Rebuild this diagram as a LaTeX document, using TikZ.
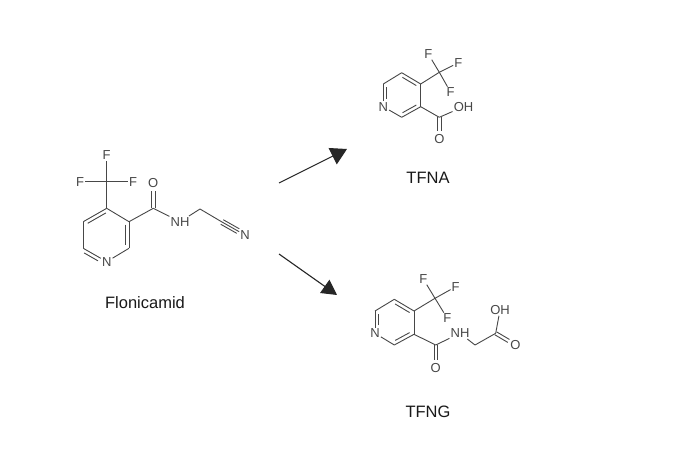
\documentclass[tikz,border=0pt]{standalone}
\usepackage{fontspec}
\setmainfont{Liberation Sans}
\usetikzlibrary{calc,arrows.meta}
\definecolor{bondgray}{HTML}{474747}
\tikzset{
  bond/.style={draw=bondgray,line width=0.9pt},
  atom/.style={inner sep=1pt,text=bondgray,font=\fontsize{13}{13}\selectfont},
  caption/.style={inner sep=0pt,text=black!90,font=\fontsize{16.5}{16.5}\selectfont},
  reaction/.style={draw=black!85,line width=1.1pt},
  uparrow/.style={-{Triangle[length=16pt,width=18pt]}},
  downarrow/.style={-{Triangle[length=15pt,width=16pt]}}
}
% inner line of a ring double bond
\newcommand{\innerbond}[2]{\draw[bond,shorten <=3pt,shorten >=3pt] ($(#1)!3.6pt!-90:(#2)$) -- ($(#2)!3.6pt!90:(#1)$);}
% two lines side by side, towards an atom label
\newcommand{\twobond}[2]{
\draw[bond,shorten >=8pt] ($(#1)!1.7pt!-90:(#2)$) -- ($(#2)!1.7pt!90:(#1)$);
\draw[bond,shorten >=8pt] ($(#1)!1.7pt!90:(#2)$) -- ($(#2)!1.7pt!-90:(#1)$);}
\begin{document}
\begin{tikzpicture}[x=1pt,y=-1pt]
\useasboundingbox (0,0) rectangle (679,471);
\fill[white] (0,0) rectangle (679,471);

% Flonicamid
\coordinate (a4) at (106.7,208.3);
\coordinate (a3) at (129,221.7);
\coordinate (a2) at (129,248.3);
\node[atom] at (106.7,261.7) (aN) {N};
\coordinate (a6) at (83.3,248.3);
\coordinate (a5) at (83.3,221.7);
\coordinate (aC) at (106.7,181.7);
\node[atom] at (106.7,155.5) (aF1) {F};
\node[atom] at (80,181.7) (aF2) {F};
\node[atom] at (133,181.7) (aF3) {F};
\coordinate (aCO) at (153.3,208.3);
\node[atom] at (153.3,183) (aO) {O};
\node[atom] at (180,221.7) (aNH) {NH};
\coordinate (aCH) at (200,209);
\coordinate (aCN) at (222,222);
\node[atom] at (245,235) (aNt) {N};

\draw[bond] (a4) -- (a3);
\draw[bond] (a3) -- (a2);
\draw[bond] (a2) -- (aN);
\draw[bond] (aN) -- (a6);
\draw[bond] (a6) -- (a5);
\draw[bond] (a5) -- (a4);
\innerbond{a5}{a4}
\innerbond{a3}{a2}
\draw[bond,shorten <=3pt,shorten >=8pt] ($(a6)!3.6pt!-90:(aN)$) -- ($(aN)!3.6pt!90:(a6)$);
\draw[bond] (a4) -- (aC);
\draw[bond] (aC) -- (aF1);
\draw[bond] (aC) -- (aF2);
\draw[bond] (aC) -- (aF3);
\draw[bond] (a3) -- (aCO);
\twobond{aCO}{aO}
\draw[bond] (aCO) -- (aNH);
\draw[bond] (aNH) -- (aCH);
\draw[bond] (aCH) -- (aCN);
\draw[bond] (aCN) -- (aNt);
\draw[bond,shorten >=8pt] ($(aCN)!2.6pt!-90:(aNt)$) -- ($(aNt)!2.6pt!90:(aCN)$);
\draw[bond,shorten >=8pt] ($(aCN)!2.6pt!90:(aNt)$) -- ($(aNt)!2.6pt!-90:(aCN)$);
\node[caption] at (145,303) (flonicamid) {Flonicamid};

% TFNA
\coordinate (b4) at (420.7,84);
\coordinate (b3) at (420.7,106.7);
\coordinate (b2) at (401.7,117.3);
\node[atom] at (383.3,106.7) (bN) {N};
\coordinate (b6) at (383.3,84);
\coordinate (b5) at (401.7,72.7);
\coordinate (bC) at (439.3,72.3);
\node[atom] at (428.3,54) (bF1) {F};
\node[atom] at (458.3,62.7) (bF2) {F};
\node[atom] at (450.7,92.3) (bF3) {F};
\coordinate (bCO) at (439.3,117.3);
\node[atom] at (463.5,106.7) (bOH) {OH};
\node[atom] at (439.3,139) (bO) {O};

\draw[bond] (b4) -- (b3);
\draw[bond] (b3) -- (b2);
\draw[bond] (b2) -- (bN);
\draw[bond] (bN) -- (b6);
\draw[bond] (b6) -- (b5);
\draw[bond] (b5) -- (b4);
\innerbond{b5}{b4}
\innerbond{b3}{b2}
\draw[bond,shorten <=8pt,shorten >=3pt] ($(bN)!3.6pt!-90:(b6)$) -- ($(b6)!3.6pt!90:(bN)$);
\draw[bond] (b4) -- (bC);
\draw[bond] (bC) -- (bF1);
\draw[bond] (bC) -- (bF2);
\draw[bond] (bC) -- (bF3);
\draw[bond] (b3) -- (bCO);
\draw[bond] (bCO) -- (bOH);
\twobond{bCO}{bO}
\node[caption] at (428,178) (tfna) {TFNA};

% TFNG
\coordinate (c4) at (414,311);
\coordinate (c3) at (414,334.3);
\coordinate (c2) at (394.3,345);
\node[atom] at (375,333.3) (cN) {N};
\coordinate (c6) at (375,311);
\coordinate (c5) at (394.3,299.3);
\coordinate (cC) at (435,298.3);
\node[atom] at (423.3,279) (cF1) {F};
\node[atom] at (455.7,286.7) (cF2) {F};
\node[atom] at (447.3,318.3) (cF3) {F};
\coordinate (cCO) at (435.7,345);
\node[atom] at (435.7,368.3) (cO) {O};
\node[atom] at (460,333.3) (cNH) {NH};
\coordinate (cCH) at (475,345);
\coordinate (cCA) at (495.7,333.3);
\node[atom] at (500,310) (cOH) {OH};
\node[atom] at (515.5,345) (cO2) {O};

\draw[bond] (c4) -- (c3);
\draw[bond] (c3) -- (c2);
\draw[bond] (c2) -- (cN);
\draw[bond] (cN) -- (c6);
\draw[bond] (c6) -- (c5);
\draw[bond] (c5) -- (c4);
\innerbond{c5}{c4}
\innerbond{c3}{c2}
\draw[bond,shorten <=8pt,shorten >=3pt] ($(cN)!3.6pt!-90:(c6)$) -- ($(c6)!3.6pt!90:(cN)$);
\draw[bond] (c4) -- (cC);
\draw[bond] (cC) -- (cF1);
\draw[bond] (cC) -- (cF2);
\draw[bond] (cC) -- (cF3);
\draw[bond] (c3) -- (cCO);
\twobond{cCO}{cO}
\draw[bond] (cCO) -- (cNH);
\draw[bond] (cNH) -- (cCH);
\draw[bond] (cCH) -- (cCA);
\draw[bond] (cCA) -- (cOH);
\twobond{cCA}{cO2}
\node[caption] at (428,412) (tfng) {TFNG};

% arrows
\coordinate (up0) at (279,183);
\coordinate (up1) at (347,149);
\coordinate (dn0) at (279,254);
\coordinate (dn1) at (337,295);
\draw[reaction,uparrow] (up0) -- (up1);
\draw[reaction,downarrow] (dn0) -- (dn1);
\end{tikzpicture}
\end{document}
